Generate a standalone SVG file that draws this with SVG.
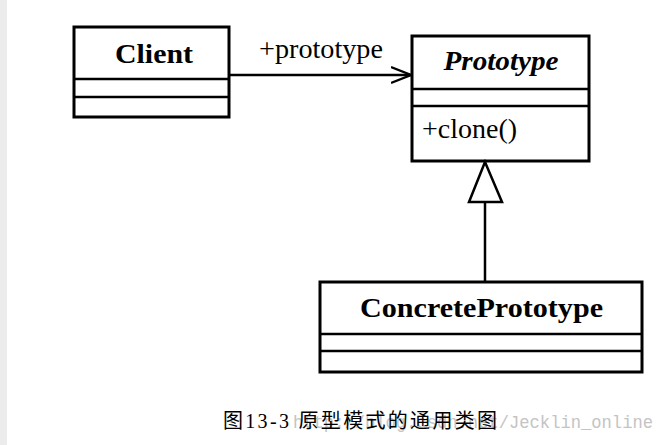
<svg xmlns="http://www.w3.org/2000/svg" width="665" height="445" viewBox="0 0 665 445">
  <style>
    .box { fill: #ffffff; stroke: #000000; stroke-width: 3; }
    .div { stroke: #000000; stroke-width: 2.5; }
    .cls { font-family: "Liberation Serif", "Times New Roman", serif; font-size: 28px; fill: #000000; }
    .b { font-weight: bold; }
    .bi { font-weight: bold; font-style: italic; }
    .edge { fill: none; stroke: #000000; stroke-width: 2.5; }
    .cap { font-family: "Liberation Serif", "Noto Sans CJK SC", serif; font-size: 20px; fill: #000000; }
    .wm { font-family: "Liberation Mono", "DejaVu Sans Mono", monospace; font-size: 18px; fill: #c4c4c4; }
  </style>
  <defs>
    <marker id="open" markerWidth="22" markerHeight="20" refX="20" refY="9" orient="auto" markerUnits="userSpaceOnUse">
      <path d="M0,1 L20,9 L0,17" fill="none" stroke="#000000" stroke-width="2.2"/>
    </marker>
  </defs>
  <rect x="0" y="0" width="665" height="445" fill="#ffffff"/>
  <rect x="0" y="0" width="7" height="445" fill="#ececec"/>

  <g id="client">
    <rect class="box" x="74" y="27" width="155" height="90"/>
    <line class="div" x1="74" y1="79" x2="229" y2="79"/>
    <line class="div" x1="74" y1="97" x2="229" y2="97"/>
    <text class="cls b" x="115" y="63" textLength="78" lengthAdjust="spacingAndGlyphs">Client</text>
  </g>

  <g id="prototype">
    <rect class="box" x="412" y="36" width="177" height="125"/>
    <line class="div" x1="412" y1="89" x2="589" y2="89"/>
    <line class="div" x1="412" y1="106" x2="589" y2="106"/>
    <text class="cls bi" x="501" y="70" text-anchor="middle" textLength="115" lengthAdjust="spacingAndGlyphs">Prototype</text>
    <text class="cls" x="422" y="138">+clone()</text>
  </g>

  <g id="concrete">
    <rect class="box" x="320" y="282" width="322" height="90"/>
    <line class="div" x1="320" y1="334" x2="642" y2="334"/>
    <line class="div" x1="320" y1="351" x2="642" y2="351"/>
    <text class="cls b" x="360" y="317" textLength="243" lengthAdjust="spacingAndGlyphs">ConcretePrototype</text>
  </g>

  <g id="connectors">
    <line class="edge" x1="229" y1="75" x2="411" y2="75" marker-end="url(#open)"/>
    <text class="cls" x="259" y="58" textLength="124" lengthAdjust="spacingAndGlyphs">+prototype</text>
    <line class="edge" x1="485" y1="202" x2="485" y2="282"/>
    <polygon points="485,162 469,202 502,202" fill="#ffffff" stroke="#000000" stroke-width="2.5"/>
  </g>

  <text class="wm" x="293" y="428" textLength="360" lengthAdjust="spacingAndGlyphs">http://blog.csdn.net/Jecklin_online</text>
  <text class="cap" x="223" y="428" textLength="274" lengthAdjust="spacing">图13-3 原型模式的通用类图</text>
</svg>
